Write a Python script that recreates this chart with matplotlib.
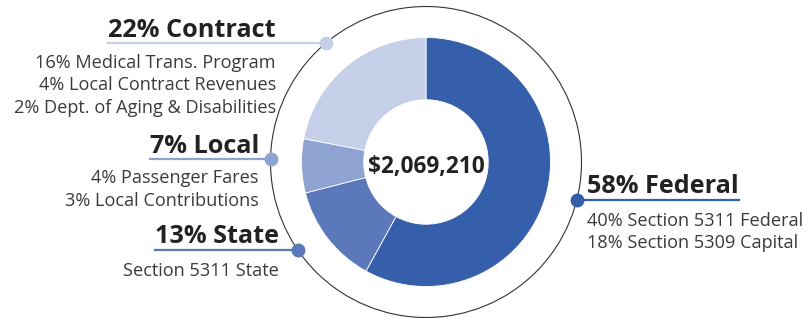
import numpy as np
import matplotlib.pyplot as plt
from matplotlib.patches import Circle

plt.rcParams['font.family'] = ['Open Sans', 'DejaVu Sans']

total = '$2,069,210'
groups = ['Federal', 'State', 'Local', 'Contract']
shares = [58, 13, 7, 22]
colors = ['#365fab', '#5b78ba', '#8fa3d2', '#c5cfe8']
details = [
    ['40% Section 5311 Federal', '18% Section 5309 Capital'],
    ['Section 5311 State'],
    ['4% Passenger Fares', '3% Local Contributions'],
    ['16% Medical Trans. Program', '4% Local Contract Revenues',
     '2% Dept. of Aging & Disabilities'],
]

# label layout in pixels from top: side, text anchor x, heading baseline, line y, sub baseline, line step
layout = [
    ('right', 587, 193, 200, 226, 21.5),
    ('left', 279, 243, 250, 276, 22.5),
    ('left', 259, 153, 159, 183, 23),
    ('left', 276, 37, 43, 68, 22.5),
]

W, H = 809, 318
cx, cy = 426, H - 162
r_out, r_ring = 124.5, 155.5

fig = plt.figure(figsize=(8.09, 3.18), dpi=100)
ax = fig.add_axes([0, 0, 1, 1])

ax.pie(shares, colors=colors, startangle=90, counterclock=False,
       center=(cx, cy), radius=r_out,
       wedgeprops=dict(width=r_out * 0.5, edgecolor='white', linewidth=0.6))
ax.set_xlim(0, W)
ax.set_ylim(0, H)
ax.set_aspect('equal')
ax.axis('off')

ax.add_patch(Circle((cx, cy), r_ring, fill=False, lw=0.8, ec='#333333', zorder=1))

ax.text(cx, cy - 5, total, ha='center', va='center', fontsize=16.3,
        fontweight='bold', color='#222222')

renderer = fig.canvas.get_renderer()
inv = ax.transData.inverted()

for i, g in enumerate(groups):
    side, tx, hy, ly, sy, step = layout[i]
    ha = 'left' if side == 'right' else 'right'
    head = ax.text(tx, H - hy, f'{shares[i]}% {g}', ha=ha, va='baseline',
                   fontsize=18.2, fontweight='bold', color='#222222')
    for k, line in enumerate(details[i]):
        ax.text(tx, H - sy - k * step, line, ha=ha, va='baseline',
                fontsize=13.1, color='#3a3a3a')
    bb = head.get_window_extent(renderer)
    x0 = inv.transform((bb.x0, 0))[0]
    x1 = inv.transform((bb.x1, 0))[0]
    dy = (H - ly) - cy
    dx = np.sqrt(r_ring ** 2 - dy ** 2)
    if side == 'right':
        dot_x = cx + dx
        ax.plot([dot_x, x1], [H - ly, H - ly], color=colors[i], lw=1.6)
    else:
        dot_x = cx - dx
        ax.plot([x0, dot_x], [H - ly, H - ly], color=colors[i], lw=1.6)
    ax.plot(dot_x, H - ly, 'o', ms=9, color=colors[i], zorder=5)

fig.savefig('out.png', dpi=100)
